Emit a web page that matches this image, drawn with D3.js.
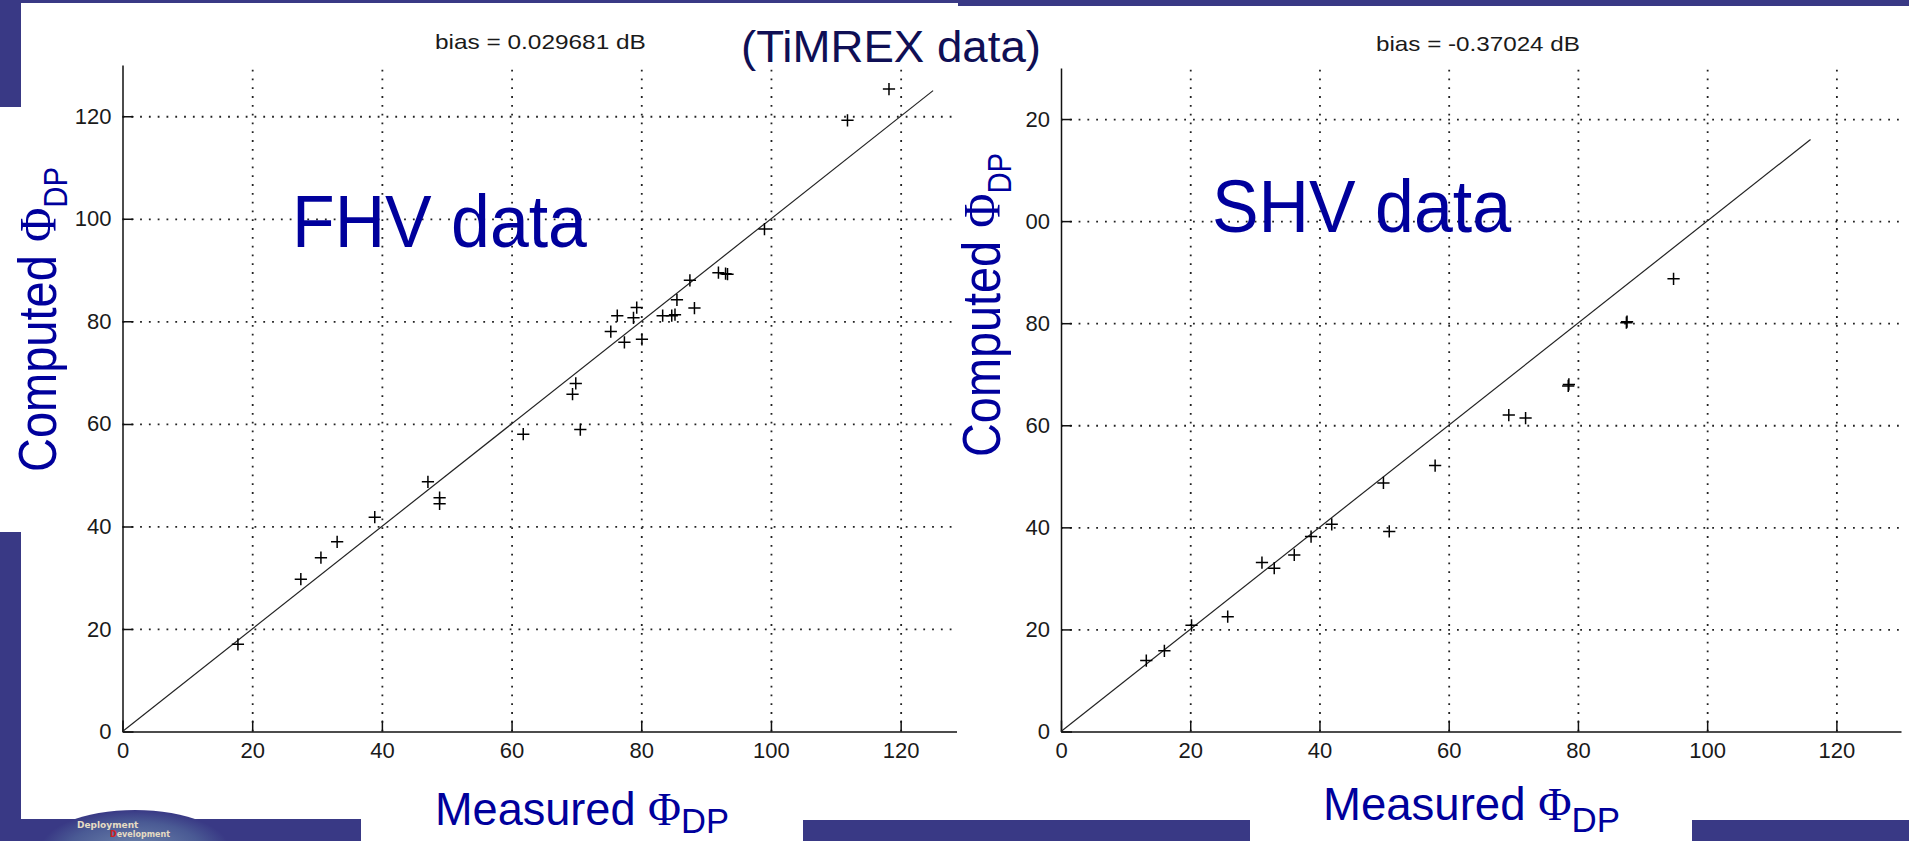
<!DOCTYPE html>
<html>
<head>
<meta charset="utf-8">
<script src="https://cdn.jsdelivr.net/npm/d3@7"></script>
<style>
  body { margin: 0; background: #ffffff; overflow: hidden; }
  svg { display: block; }
  .axis path, .axis line { stroke: #111; stroke-width: 1.5; }
  .axis text { font-family: "Liberation Sans", Arial, sans-serif; font-size: 22px; fill: #1a1a1a; }
  .grid line { stroke: #222; stroke-width: 1.8; stroke-dasharray: 1.8 7; }
  .grid path { display: none; }
</style>
</head>
<body>
<div class="slide"></div>
<script>
// FHV (TiMREX) : measured vs computed PhiDP
const fhvMeasured = [17.8, 27.5, 30.6, 33.1, 38.9, 47.1, 48.9, 48.9, 61.8, 69.4, 69.9, 70.6,
  75.3, 76.3, 77.4, 79.3, 78.8, 80.1, 83.3, 84.7, 85.2, 85.5, 88.2, 87.5, 91.9, 93.0, 93.3,
  99.0, 111.8, 118.2];
const fhvComputed = [17.0, 29.7, 33.9, 37.0, 41.8, 48.7, 45.6, 44.4, 58.0, 65.8, 67.9, 58.9,
  78.0, 81.1, 75.9, 82.7, 80.7, 76.5, 81.1, 81.1, 81.3, 84.2, 82.6, 88.0, 89.5, 89.3, 89.2,
  98.0, 119.2, 125.3];

// SHV : measured vs computed PhiDP
const shvMeasured = [13.2, 16.0, 20.2, 25.8, 31.1, 33.0, 36.1, 38.7, 41.9, 49.9, 50.8, 57.9,
  69.3, 71.9, 78.5, 78.6, 87.5, 87.6, 94.8];
const shvComputed = [13.9, 15.8, 20.8, 22.5, 33.1, 32.0, 34.6, 38.2, 40.6, 48.7, 39.2, 52.1,
  62.0, 61.4, 67.7, 68.0, 80.1, 80.3, 88.7];

// 1:1 reference lines (start, end)
const fhvLine = [0, 125];
const shvLine = [0, 116];

const tickValues = [0, 20, 40, 60, 80, 100, 120];
const xTickLabels = ["0", "20", "40", "60", "80", "100", "120"];
const fhvYTickLabels = ["0", "20", "40", "60", "80", "100", "120"];
const shvYTickLabels = ["0", "20", "40", "60", "80", "00", "20"];

const fhvTitle = "bias = 0.029681 dB";
const shvTitle = "bias = -0.37024 dB";

const W = 1909, H = 841;
const slideBlue = "#393985";
const labelBlue = "#00009c";

const svg = d3.select("div.slide").append("svg")
    .attr("width", W)
    .attr("height", H);

// slide background decoration
function drawSlide() {
    const bg = svg.append("g");
    bg.append("rect").attr("x", 0).attr("y", 0).attr("width", 958).attr("height", 3).attr("fill", slideBlue);
    bg.append("rect").attr("x", 958).attr("y", 0).attr("width", W - 958).attr("height", 6).attr("fill", slideBlue);
    bg.append("rect").attr("x", 0).attr("y", 0).attr("width", 21).attr("height", 107).attr("fill", slideBlue);
    bg.append("rect").attr("x", 0).attr("y", 532).attr("width", 21).attr("height", H - 532).attr("fill", slideBlue);
    bg.append("rect").attr("x", 803).attr("y", 820).attr("width", 447).attr("height", 21).attr("fill", slideBlue);
    bg.append("rect").attr("x", 1692).attr("y", 820).attr("width", W - 1692).attr("height", 21).attr("fill", slideBlue);

    // little logo band bottom left
    const grad = svg.append("defs").append("radialGradient").attr("id", "globe");
    grad.append("stop").attr("offset", "0%").attr("stop-color", "#6f86ad");
    grad.append("stop").attr("offset", "70%").attr("stop-color", "#4a5a94");
    grad.append("stop").attr("offset", "100%").attr("stop-color", slideBlue);
    bg.append("rect").attr("x", 0).attr("y", 819).attr("width", 361).attr("height", 22).attr("fill", slideBlue);
    bg.append("ellipse").attr("cx", 135).attr("cy", 850).attr("rx", 95).attr("ry", 40).attr("fill", "url(#globe)");
    bg.append("text").attr("x", 77).attr("y", 828)
        .attr("font-family", "DejaVu Sans, sans-serif").attr("font-weight", "bold")
        .attr("font-size", 9).attr("fill", "#e6dcc4").text("Deployment");
    const dev = bg.append("text").attr("x", 110).attr("y", 837)
        .attr("font-family", "DejaVu Sans, sans-serif").attr("font-weight", "bold")
        .attr("font-size", 8).attr("fill", "#e6dcc4");
    dev.append("tspan").attr("fill", "#d02020").text("D");
    dev.append("tspan").text("evelopment");
}

// text squeezed to a given length (the slide fonts are narrow)
function fitLabel(parent, o) {
    const g = parent.append("g");
    const t = g.append("text").attr("fill", o.color);
    o.parts.forEach(p => {
        t.append("tspan")
            .attr("font-family", p.family || "Liberation Sans, Arial, sans-serif")
            .attr("font-size", p.size)
            .attr("dy", p.dy || 0)
            .text(p.text);
    });
    const w = t.node().getComputedTextLength();
    g.attr("transform", `translate(${o.x},${o.y}) rotate(${o.rotate || 0}) scale(${o.width / w},1)`);
    return g;
}

const plusSymbol = {
    draw(ctx, size) {
        const r = Math.sqrt(size) / 2;
        ctx.moveTo(-r, 0); ctx.lineTo(r, 0);
        ctx.moveTo(0, -r); ctx.lineTo(0, r);
    }
};

function createPanel(cfg) {
    const x = d3.scaleLinear().domain([0, 130]).range(cfg.xRange);
    const y = d3.scaleLinear().domain([0, 130]).range(cfg.yRange);

    const clipId = "clip-" + cfg.id;
    svg.select("defs").append("clipPath").attr("id", clipId)
        .append("rect")
        .attr("x", cfg.xRange[0] - 60).attr("y", 0)
        .attr("width", cfg.clipRight - cfg.xRange[0] + 60).attr("height", H);

    const g = svg.append("g").attr("clip-path", `url(#${clipId})`);

    // dotted grid
    g.append("g").attr("class", "grid")
        .attr("transform", `translate(0,${cfg.yRange[0]})`)
        .call(d3.axisBottom(x).tickValues(tickValues.slice(1)).tickSize(-(cfg.yRange[0] - cfg.yRange[1])).tickFormat(""));
    g.append("g").attr("class", "grid")
        .attr("transform", `translate(${cfg.xRange[0]},0)`)
        .call(d3.axisLeft(y).tickValues(tickValues.slice(1)).tickSize(-(cfg.xRange[1] - cfg.xRange[0])).tickFormat(""));

    // axes, MATLAB style ticks pointing inward
    g.append("g").attr("class", "axis")
        .attr("transform", `translate(0,${cfg.yRange[0]})`)
        .call(d3.axisBottom(x).tickValues(tickValues).tickSizeInner(-11).tickSizeOuter(0)
            .tickPadding(11).tickFormat((d, i) => xTickLabels[i]));
    g.append("g").attr("class", "axis")
        .attr("transform", `translate(${cfg.xRange[0]},0)`)
        .call(d3.axisLeft(y).tickValues(tickValues).tickSizeInner(-11).tickSizeOuter(0)
            .tickPadding(11).tickFormat((d, i) => cfg.yLabels[i]));

    // 1:1 line
    g.append("path")
        .datum(cfg.line)
        .attr("fill", "none")
        .attr("stroke", "#222")
        .attr("stroke-width", 1.2)
        .attr("d", d3.line().x(d => x(d)).y(d => y(d)));

    // points
    g.selectAll(".pt")
        .data(cfg.measured.map((m, i) => [m, cfg.computed[i]]))
        .enter().append("path")
        .attr("class", "pt")
        .attr("transform", d => `translate(${x(d[0])},${y(d[1])})`)
        .attr("d", d3.symbol().type(plusSymbol).size(150))
        .attr("stroke", "#000")
        .attr("stroke-width", 1.5)
        .attr("fill", "none");

    // bias title
    fitLabel(svg, {
        x: cfg.titleX, y: cfg.titleY, width: cfg.titleW, color: "#1a1a1a",
        parts: [{ text: cfg.title, size: 21 }]
    });
}

drawSlide();

createPanel({
    id: "fhv", measured: fhvMeasured, computed: fhvComputed, line: fhvLine,
    xRange: [122.5, 965.5], yRange: [731.5, 65], clipRight: 957,
    yLabels: fhvYTickLabels, title: fhvTitle, titleX: 435, titleY: 48.5, titleW: 211
});

createPanel({
    id: "shv", measured: shvMeasured, computed: shvComputed, line: shvLine,
    xRange: [1061, 1901], yRange: [731.5, 68], clipRight: 1905,
    yLabels: shvYTickLabels, title: shvTitle, titleX: 1376, titleY: 50.5, titleW: 204
});

// slide labels
const sans = "Liberation Sans, Arial, sans-serif";
const serif = "Liberation Serif, Times New Roman, serif";

fitLabel(svg, { x: 292, y: 246.5, width: 295, color: labelBlue, parts: [{ text: "FHV data", size: 75 }] });
fitLabel(svg, { x: 1212, y: 231.5, width: 299, color: labelBlue, parts: [{ text: "SHV data", size: 75 }] });
fitLabel(svg, { x: 741, y: 62, width: 300, color: "#0f0f55", parts: [{ text: "(TiMREX data)", size: 44 }] });

[[56, 472, 305], [1000, 457, 304]].forEach(([lx, ly, lw]) => {
    fitLabel(svg, {
        x: lx, y: ly, width: lw, rotate: -90, color: labelBlue,
        parts: [
            { text: "Computed ", size: 53, family: sans },
            { text: "Φ", size: 53, family: serif },
            { text: "DP", size: 33, family: sans, dy: 11 }
        ]
    });
});

[[435, 825, 294, 8], [1323, 820, 297, 12]].forEach(([lx, ly, lw, sub]) => {
    fitLabel(svg, {
        x: lx, y: ly, width: lw, color: labelBlue,
        parts: [
            { text: "Measured ", size: 47, family: sans },
            { text: "Φ", size: 47, family: serif },
            { text: "DP", size: 36, family: sans, dy: sub }
        ]
    });
});
</script>
</body>
</html>
